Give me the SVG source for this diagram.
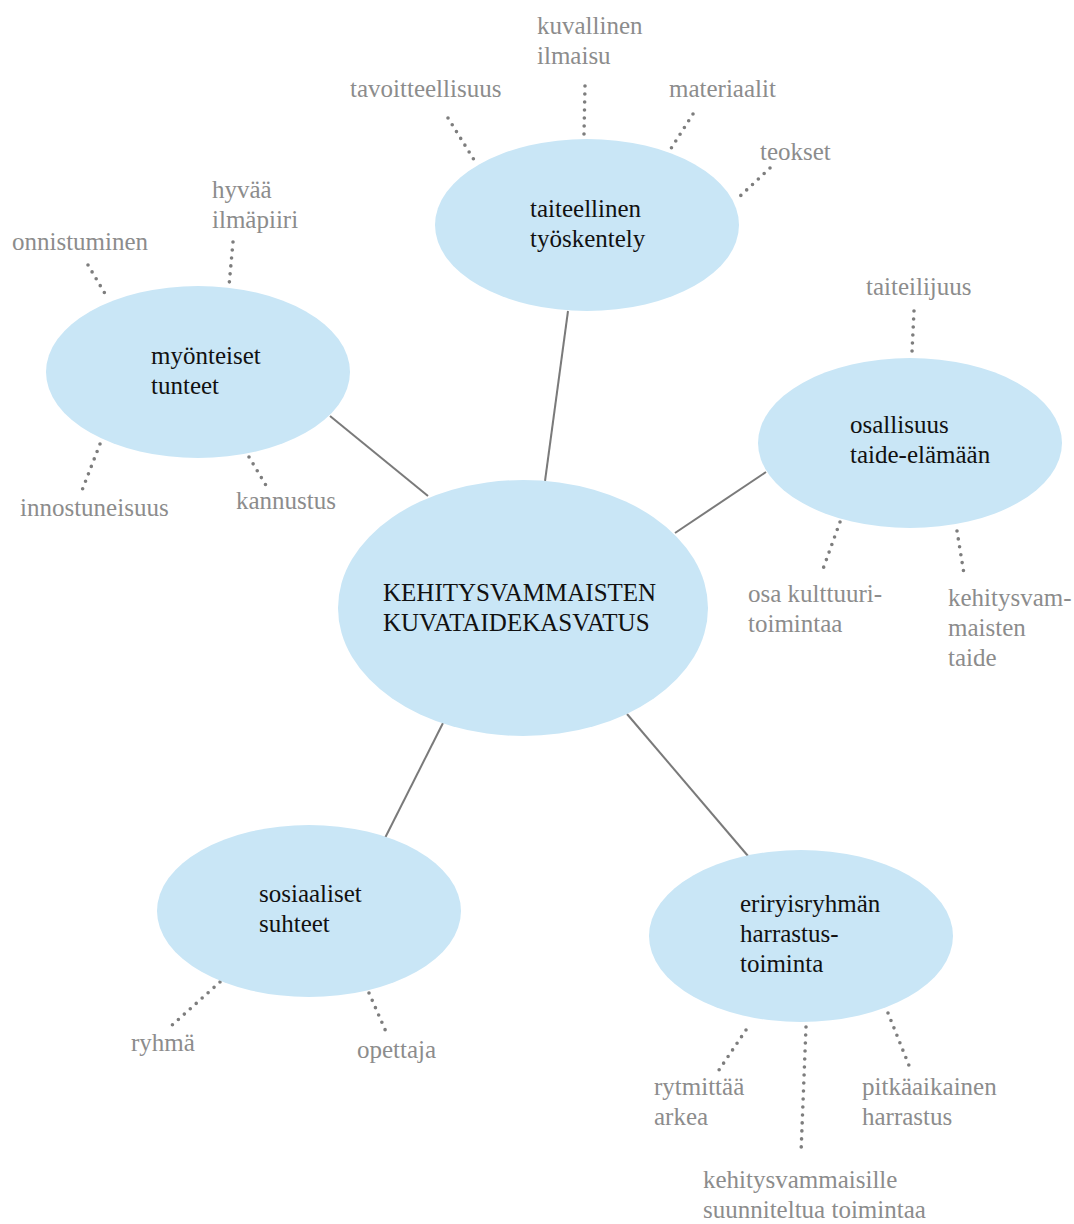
<svg xmlns="http://www.w3.org/2000/svg" width="1074" height="1224" viewBox="0 0 1074 1224">
<style>
.node{fill:#c9e6f6;}
.lbl{font-family:"Liberation Serif","Times New Roman",serif;font-size:25px;fill:#111;}
.leaf{font-family:"Liberation Serif","Times New Roman",serif;font-size:25px;fill:#8c8c8c;}
.link{stroke:#7a7a7a;stroke-width:2;fill:none;}
.dot{stroke:#7d7d7d;stroke-width:3.6;stroke-linecap:round;stroke-dasharray:0 8;fill:none;}
</style>
<rect width="1074" height="1224" fill="#fff"/>
<g id="connectors">
<line class="link" x1="545" y1="481" x2="568" y2="311"/>
<line class="link" x1="428" y1="496" x2="330" y2="416"/>
<line class="link" x1="675" y1="533" x2="766" y2="472"/>
<line class="link" x1="443" y1="723" x2="385" y2="838"/>
<line class="link" x1="627" y1="714" x2="748" y2="856"/>
<line class="dot" x1="448" y1="118" x2="476" y2="163"/>
<line class="dot" x1="585" y1="86" x2="584" y2="134"/>
<line class="dot" x1="693" y1="114" x2="670" y2="150"/>
<line class="dot" x1="770" y1="168" x2="737" y2="199"/>
<line class="dot" x1="88" y1="265" x2="107" y2="297"/>
<line class="dot" x1="233" y1="242" x2="229" y2="286"/>
<line class="dot" x1="100" y1="444" x2="81" y2="493"/>
<line class="dot" x1="249" y1="457" x2="267" y2="487"/>
<line class="dot" x1="914" y1="311" x2="912" y2="352"/>
<line class="dot" x1="840" y1="522" x2="823" y2="569"/>
<line class="dot" x1="957" y1="531" x2="964" y2="574"/>
<line class="dot" x1="746" y1="1030" x2="719" y2="1070"/>
<line class="dot" x1="806" y1="1027" x2="801" y2="1153"/>
<line class="dot" x1="888" y1="1013" x2="910" y2="1068"/>
<line class="dot" x1="220" y1="982" x2="170" y2="1027"/>
<line class="dot" x1="369" y1="993" x2="387" y2="1034"/>
</g>
<g id="center">
<ellipse class="node" cx="523" cy="608" rx="185" ry="128"/>
<text class="lbl" x="383" y="601">KEHITYSVAMMAISTEN</text>
<text class="lbl" x="383" y="631">KUVATAIDEKASVATUS</text>
</g>
<g id="taiteellinen">
<ellipse class="node" cx="587" cy="225" rx="152" ry="86"/>
<text class="lbl" x="530" y="217">taiteellinen</text>
<text class="lbl" x="530" y="247">työskentely</text>
</g>
<g id="myonteiset">
<ellipse class="node" cx="198" cy="372" rx="152" ry="86"/>
<text class="lbl" x="151" y="364">myönteiset</text>
<text class="lbl" x="151" y="394">tunteet</text>
</g>
<g id="osallisuus">
<ellipse class="node" cx="910" cy="443" rx="152" ry="85"/>
<text class="lbl" x="850" y="433">osallisuus</text>
<text class="lbl" x="850" y="463">taide-elämään</text>
</g>
<g id="sosiaaliset">
<ellipse class="node" cx="309" cy="911" rx="152" ry="86"/>
<text class="lbl" x="259" y="902">sosiaaliset</text>
<text class="lbl" x="259" y="932">suhteet</text>
</g>
<g id="eriryisryhman">
<ellipse class="node" cx="801" cy="936" rx="152" ry="86"/>
<text class="lbl" x="740" y="912">eriryisryhmän</text>
<text class="lbl" x="740" y="942">harrastus-</text>
<text class="lbl" x="740" y="972">toiminta</text>
</g>
<g id="leaves">
<text class="leaf" x="537" y="34">kuvallinen</text>
<text class="leaf" x="537" y="64">ilmaisu</text>
<text class="leaf" x="350" y="97">tavoitteellisuus</text>
<text class="leaf" x="669" y="97">materiaalit</text>
<text class="leaf" x="760" y="160">teokset</text>
<text class="leaf" x="12" y="250">onnistuminen</text>
<text class="leaf" x="212" y="198">hyvää</text>
<text class="leaf" x="212" y="228">ilmäpiiri</text>
<text class="leaf" x="20" y="516">innostuneisuus</text>
<text class="leaf" x="236" y="509">kannustus</text>
<text class="leaf" x="866" y="295">taiteilijuus</text>
<text class="leaf" x="748" y="602">osa kulttuuri-</text>
<text class="leaf" x="748" y="632">toimintaa</text>
<text class="leaf" x="948" y="606">kehitysvam-</text>
<text class="leaf" x="948" y="636">maisten</text>
<text class="leaf" x="948" y="666">taide</text>
<text class="leaf" x="654" y="1095">rytmittää</text>
<text class="leaf" x="654" y="1125">arkea</text>
<text class="leaf" x="862" y="1095">pitkäaikainen</text>
<text class="leaf" x="862" y="1125">harrastus</text>
<text class="leaf" x="703" y="1188">kehitysvammaisille</text>
<text class="leaf" x="703" y="1218">suunniteltua toimintaa</text>
<text class="leaf" x="131" y="1051">ryhmä</text>
<text class="leaf" x="357" y="1058">opettaja</text>
</g>
</svg>
